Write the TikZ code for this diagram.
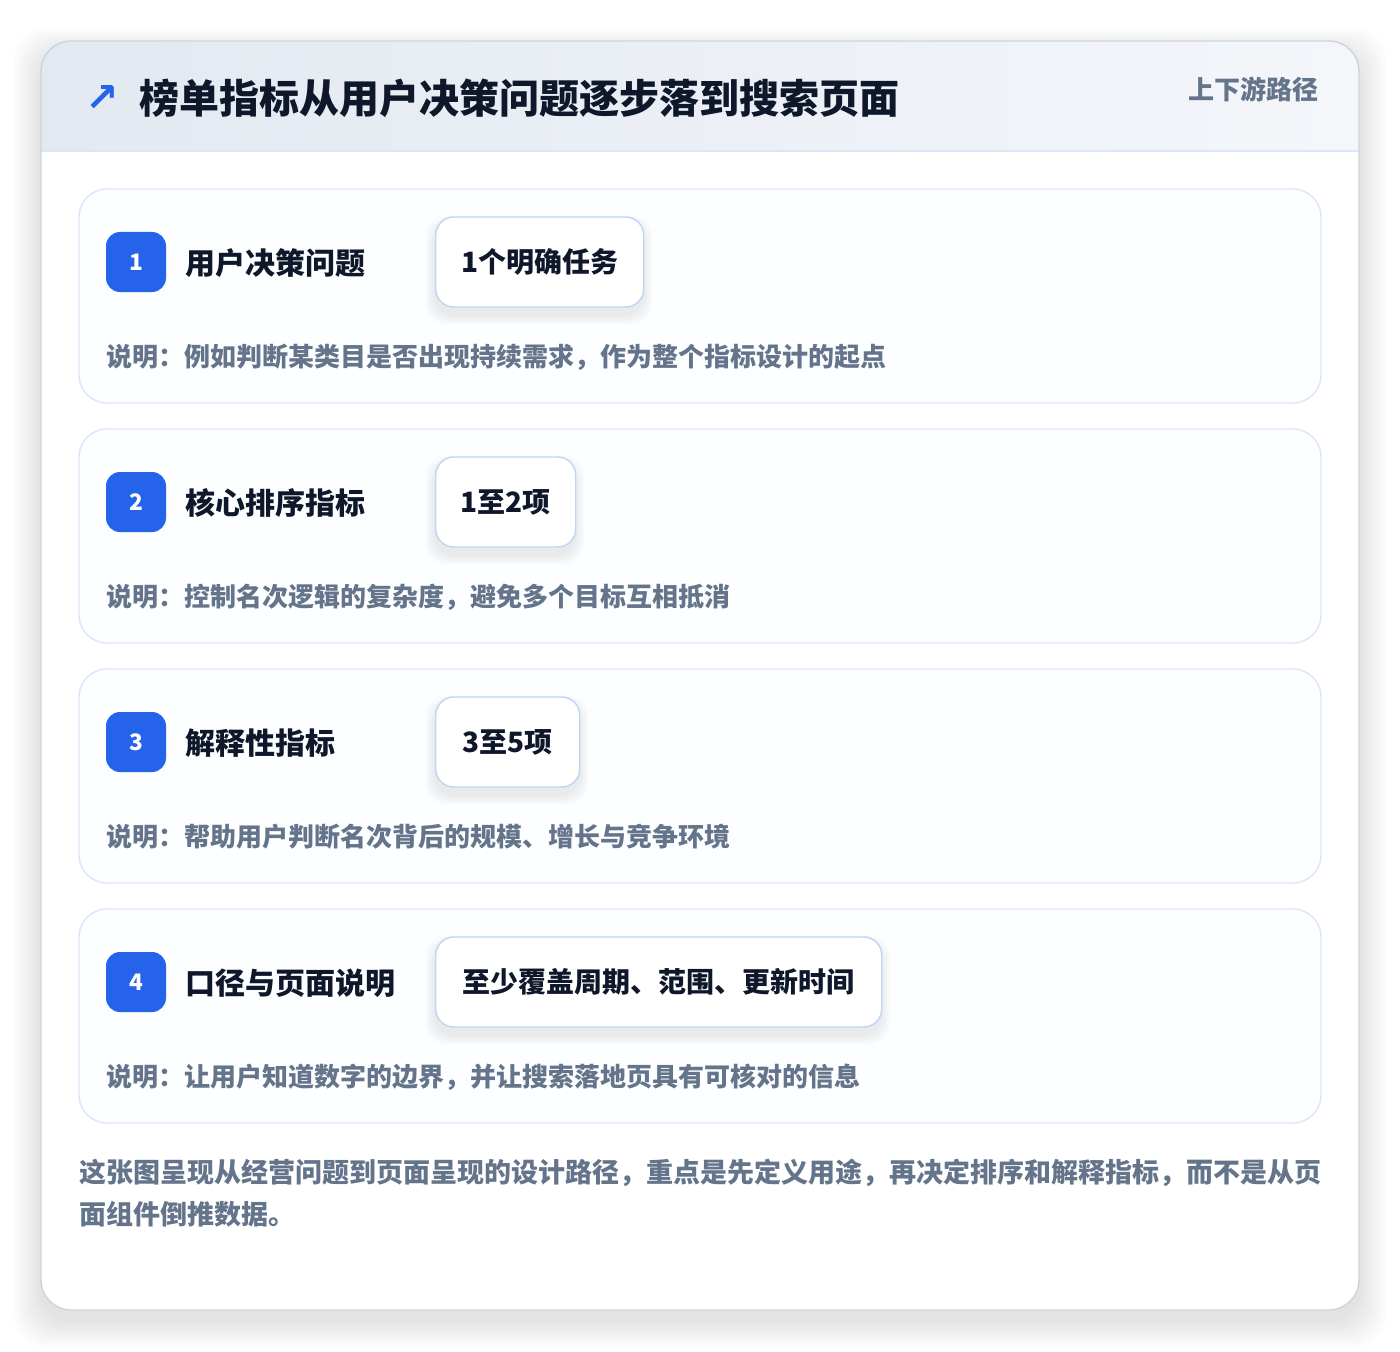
\documentclass[tikz,border=0pt]{standalone}
\usepackage{fontspec}
\setmainfont{Noto Sans CJK SC}
\newfontfamily\heavyfont{Noto Sans CJK SC Black}
\newfontfamily\djv{DejaVu Sans}
\definecolor{blueA}{HTML}{2563EB}
\definecolor{ink}{HTML}{0F172A}
\definecolor{muted}{HTML}{64748B}
\definecolor{cardborder}{HTML}{DBE7F8}
\definecolor{valborder}{HTML}{BFD6F6}
\definecolor{outerborder}{HTML}{CBD5E1}
\definecolor{hdrL}{HTML}{E3E9F1}
\definecolor{hdrR}{HTML}{F4F6FA}
\definecolor{cardfill}{HTML}{FDFEFF}
\newcommand\mysoftshadow[4]{%
  \foreach \k in {1,...,10}{%
    \fill[black,opacity=0.006,rounded corners=16pt] (#1-\k,#2-\k+8) rectangle (#3+\k,#4+\k+8);}%
}
\begin{document}
\begin{tikzpicture}[x=0.75pt,y=-0.75pt,
  stepcard/.style={draw=cardborder,line width=1.1pt,fill=cardfill,rounded corners=21pt,inner sep=0pt},
  badge/.style={fill=blueA,rounded corners=10.5pt,minimum width=45pt,minimum height=45pt,inner sep=0pt,
    text=white,font=\fontsize{17pt}{19pt}\selectfont\bfseries},
  steptitle/.style={anchor=west,inner sep=0pt,text=ink,font=\heavyfont\fontsize{22.5pt}{26pt}\selectfont},
  valbox/.style={anchor=west,draw=valborder,line width=1.1pt,fill=white,rounded corners=13.5pt,
    minimum height=67.5pt,inner xsep=0pt,text=ink,font=\heavyfont\fontsize{21pt}{24pt}\selectfont},
  desc/.style={anchor=west,inner sep=0pt,text=muted,font=\fontsize{19.5pt}{22pt}\selectfont\bfseries},
]
\useasboundingbox (0,0) rectangle (1400,1352);
\fill[white] (0,0) rectangle (1400,1352);
% outer card shadow
\foreach \k in {1,...,28}{%
  \fill[black,opacity=0.0045,rounded corners=24pt] (41-\k,41-\k+14) rectangle (1359+\k,1310+\k+10);}
% outer card
\fill[white,rounded corners=22.5pt] (41,41) rectangle (1359,1310);
\begin{scope}
  \clip[rounded corners=22.5pt] (41,41) rectangle (1359,1310);
  \shade[left color=hdrL,right color=hdrR] (41,41) rectangle (1359,151);
\end{scope}
\draw[cardborder,line width=1.1pt] (41,151) -- (1359,151);
\draw[outerborder,line width=1.1pt,rounded corners=22.5pt] (41,41) rectangle (1359,1310);
% header texts
\node[anchor=center,inner sep=0pt,text=blueA,font=\djv\bfseries\fontsize{30pt}{32pt}\selectfont] (icon) at (102,99) {↗};
\node[anchor=west,inner sep=0pt,text=ink,font=\heavyfont\fontsize{30pt}{34pt}\selectfont] (title) at (139,98) {榜单指标从用户决策问题逐步落到搜索页面};
\node[anchor=east,inner sep=0pt,text=muted,font=\fontsize{19.5pt}{22pt}\selectfont\bfseries] (tag) at (1319,89) {上下游路径};
% step cards
\node[stepcard,minimum width=931.5pt,minimum height=160.5pt] (card1) at (700,296) {};
\node[stepcard,minimum width=931.5pt,minimum height=160.5pt] (card2) at (700,536) {};
\node[stepcard,minimum width=931.5pt,minimum height=160.5pt] (card3) at (700,776) {};
\node[stepcard,minimum width=931.5pt,minimum height=160.5pt] (card4) at (700,1016) {};
% value box shadows
\mysoftshadow{435}{217}{643}{307}
\mysoftshadow{435}{457}{575}{547}
\mysoftshadow{435}{697}{579}{787}
\mysoftshadow{435}{937}{881}{1027}
% step 1
\node[badge] (b1) at (136,262) {1};
\node[steptitle] (t1) at (185,263) {用户决策问题};
\node[valbox,minimum width=156pt] (v1) at (435,262) {1个明确任务};
\node[desc] (d1) at (106,357) {说明：例如判断某类目是否出现持续需求，作为整个指标设计的起点};
% step 2
\node[badge] (b2) at (136,502) {2};
\node[steptitle] (t2) at (185,503) {核心排序指标};
\node[valbox,minimum width=105pt] (v2) at (435,502) {1至2项};
\node[desc] (d2) at (106,597) {说明：控制名次逻辑的复杂度，避免多个目标互相抵消};
% step 3
\node[badge] (b3) at (136,742) {3};
\node[steptitle] (t3) at (185,743) {解释性指标};
\node[valbox,minimum width=108pt] (v3) at (435,742) {3至5项};
\node[desc] (d3) at (106,837) {说明：帮助用户判断名次背后的规模、增长与竞争环境};
% step 4
\node[badge] (b4) at (136,982) {4};
\node[steptitle] (t4) at (185,983) {口径与页面说明};
\node[valbox,minimum width=334.5pt] (v4) at (435,982) {至少覆盖周期、范围、更新时间};
\node[desc] (d4) at (106,1077) {说明：让用户知道数字的边界，并让搜索落地页具有可核对的信息};
% footer
\node[anchor=north west,inner sep=0pt,align=left,text=muted,font=\fontsize{20.25pt}{31.5pt}\selectfont\bfseries] (foot) at (79,1159)
  {这张图呈现从经营问题到页面呈现的设计路径，重点是先定义用途，再决定排序和解释指标，而不是从页\\面组件倒推数据。};
\end{tikzpicture}
\end{document}
